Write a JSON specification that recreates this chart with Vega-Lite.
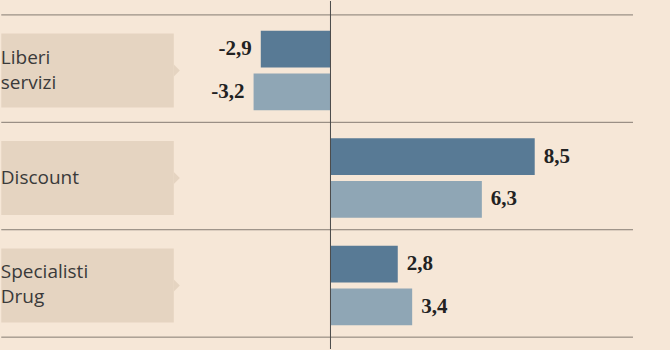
{
  "$schema": "https://vega.github.io/schema/vega-lite/v6.json",
  "width": 670,
  "height": 350,
  "autosize": {"type": "fit", "contains": "padding"},
  "padding": 0,
  "background": "#f6e7d7",
  "config": {"view": {"stroke": null}},
  "datasets": {
    "bars": [
      {"categoria": "Liberi servizi", "serie": "1", "valore": -2.9, "etichetta": "-2,9"},
      {"categoria": "Liberi servizi", "serie": "2", "valore": -3.2, "etichetta": "-3,2"},
      {"categoria": "Discount", "serie": "1", "valore": 8.5, "etichetta": "8,5"},
      {"categoria": "Discount", "serie": "2", "valore": 6.3, "etichetta": "6,3"},
      {"categoria": "Specialisti Drug", "serie": "1", "valore": 2.8, "etichetta": "2,8"},
      {"categoria": "Specialisti Drug", "serie": "2", "valore": 3.4, "etichetta": "3,4"}
    ],
    "cats": [
      {"categoria": "Liberi servizi", "nome": "Liberi\nservizi"},
      {"categoria": "Discount", "nome": "Discount"},
      {"categoria": "Specialisti Drug", "nome": "Specialisti\nDrug"}
    ]
  },
  "layer": [
    {
      "data": {"name": "cats"},
      "mark": {"type": "bar", "height": 74, "yOffset": 2, "color": "#e5d4c1"},
      "encoding": {
        "y": {"field": "categoria", "type": "nominal", "sort": null, "axis": null,
              "scale": {"domain": ["Liberi servizi", "Discount", "Specialisti Drug"], "paddingInner": 0, "paddingOuter": 0.12, "align": 0.54}},
        "x": {"datum": -13.7, "type": "quantitative", "axis": null,
              "scale": {"domain": [-13.67, 14.13], "nice": false, "zero": false}},
        "x2": {"datum": -6.52}
      }
    },
    {
      "data": {"name": "cats"},
      "mark": {"type": "point", "shape": "M0,-1L1,0L0,1Z", "size": 144, "filled": true, "opacity": 1, "color": "#e5d4c1", "yOffset": 2},
      "encoding": {
        "y": {"field": "categoria", "type": "nominal", "sort": null, "axis": null},
        "x": {"datum": -6.52, "type": "quantitative", "axis": null}
      }
    },
    {
      "data": {"name": "cats"},
      "transform": [{"filter": "indexof(datum.nome, '\\n') < 0"}],
      "mark": {"type": "text", "align": "left", "baseline": "middle", "font": "Open Sans", "fontSize": 19, "color": "#3a3a3a", "dy": 2},
      "encoding": {
        "y": {"field": "categoria", "type": "nominal", "sort": null, "axis": null},
        "x": {"datum": -13.72, "type": "quantitative", "axis": null},
        "text": {"field": "nome"}
      }
    },
    {
      "data": {"name": "cats"},
      "transform": [{"filter": "indexof(datum.nome, '\\n') >= 0"}],
      "mark": {"type": "text", "align": "left", "baseline": "middle", "lineBreak": "\n", "lineHeight": 25, "font": "Open Sans", "fontSize": 19, "color": "#3a3a3a", "dy": -11},
      "encoding": {
        "y": {"field": "categoria", "type": "nominal", "sort": null, "axis": null},
        "x": {"datum": -13.72, "type": "quantitative", "axis": null},
        "text": {"field": "nome"}
      }
    },
    {
      "data": {"name": "cats"},
      "mark": {"type": "rule", "color": "#857b72", "strokeWidth": 1},
      "encoding": {
        "y": {"field": "categoria", "type": "nominal", "sort": null, "axis": null, "bandPosition": 0},
        "x": {"datum": -13.7, "type": "quantitative", "axis": null},
        "x2": {"datum": 12.59}
      }
    },
    {
      "data": {"name": "cats"},
      "transform": [{"filter": "datum.categoria === 'Specialisti Drug'"}],
      "mark": {"type": "rule", "color": "#857b72", "strokeWidth": 1},
      "encoding": {
        "y": {"field": "categoria", "type": "nominal", "sort": null, "axis": null, "bandPosition": 1},
        "x": {"datum": -13.7, "type": "quantitative", "axis": null},
        "x2": {"datum": 12.59}
      }
    },
    {
      "data": {"name": "bars"},
      "mark": {"type": "bar"},
      "encoding": {
        "y": {"field": "categoria", "type": "nominal", "sort": null, "axis": null},
        "yOffset": {"field": "serie", "type": "nominal", "scale": {"paddingInner": 0.14, "paddingOuter": 0.326, "align": 0.57}},
        "x": {"field": "valore", "type": "quantitative", "axis": null},
        "x2": {"datum": 0},
        "color": {"field": "serie", "type": "nominal", "legend": null, "scale": {"domain": ["1", "2"], "range": ["#587a95", "#8fa6b5"]}}
      }
    },
    {
      "data": {"name": "bars"},
      "transform": [{"filter": "datum.valore >= 0"}],
      "mark": {"type": "text", "align": "left", "baseline": "middle", "dx": 9, "font": "Liberation Serif", "fontWeight": "bold", "fontSize": 21, "color": "#222222"},
      "encoding": {
        "y": {"field": "categoria", "type": "nominal", "sort": null, "axis": null},
        "yOffset": {"field": "serie", "type": "nominal"},
        "x": {"field": "valore", "type": "quantitative", "axis": null},
        "text": {"field": "etichetta"}
      }
    },
    {
      "data": {"name": "bars"},
      "transform": [{"filter": "datum.valore < 0"}],
      "mark": {"type": "text", "align": "right", "baseline": "middle", "dx": -9, "font": "Liberation Serif", "fontWeight": "bold", "fontSize": 21, "color": "#222222"},
      "encoding": {
        "y": {"field": "categoria", "type": "nominal", "sort": null, "axis": null},
        "yOffset": {"field": "serie", "type": "nominal"},
        "x": {"field": "valore", "type": "quantitative", "axis": null},
        "text": {"field": "etichetta"}
      }
    },
    {
      "data": {"values": [{}]},
      "mark": {"type": "rule", "color": "#4a4a4a", "strokeWidth": 1},
      "encoding": {
        "x": {"datum": 0, "type": "quantitative", "axis": null}
      }
    }
  ]
}
